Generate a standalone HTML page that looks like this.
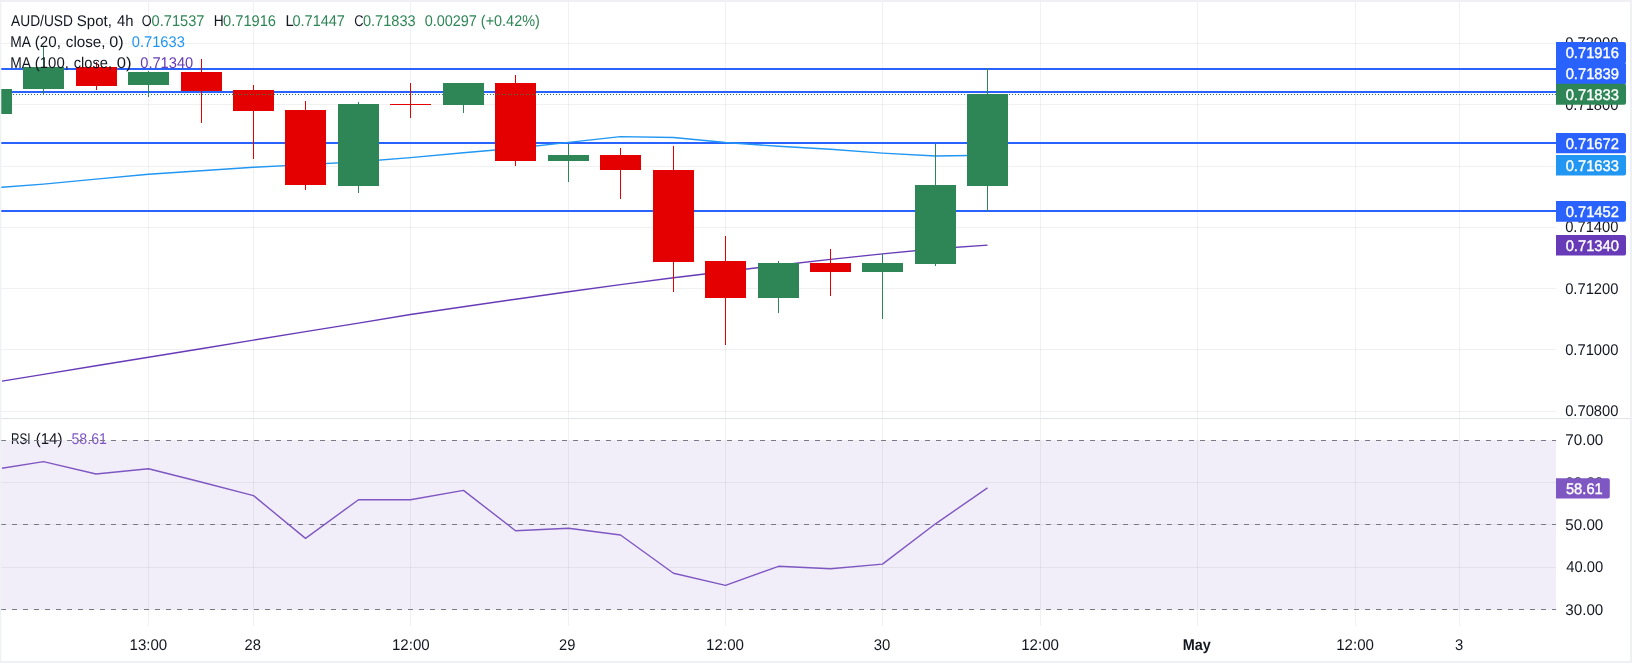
<!DOCTYPE html>
<html><head><meta charset="utf-8"><title>AUD/USD Spot, 4h</title>
<style>
html,body{margin:0;padding:0;background:#eef0f4;}
body{width:1632px;height:663px;overflow:hidden;}
svg{display:block;will-change:transform;}
text{font-family:'Liberation Sans', Arial, sans-serif;text-rendering:geometricPrecision;}
</style></head><body>
<svg width="1632" height="663" viewBox="0 0 1632 663">
<defs>
<clipPath id="cm"><rect x="1" y="2" width="1555" height="416"/></clipPath>
<clipPath id="cr"><rect x="1" y="419" width="1555" height="207"/></clipPath>
</defs>
<rect x="0" y="0" width="1632" height="663" fill="#eef0f4"/>
<rect x="1" y="2" width="1629" height="659" fill="#ffffff"/>

<g shape-rendering="crispEdges">
<rect x="1" y="43" width="1555" height="1" fill="rgba(42,50,48,0.07)"/>
<rect x="1" y="104" width="1555" height="1" fill="rgba(42,50,48,0.07)"/>
<rect x="1" y="166" width="1555" height="1" fill="rgba(42,50,48,0.07)"/>
<rect x="1" y="227" width="1555" height="1" fill="rgba(42,50,48,0.07)"/>
<rect x="1" y="288" width="1555" height="1" fill="rgba(42,50,48,0.07)"/>
<rect x="1" y="349" width="1555" height="1" fill="rgba(42,50,48,0.07)"/>
<rect x="1" y="411" width="1555" height="1" fill="rgba(42,50,48,0.07)"/>
<rect x="148" y="2" width="1" height="416" fill="rgba(42,50,48,0.07)"/>
<rect x="253" y="2" width="1" height="416" fill="rgba(42,50,48,0.07)"/>
<rect x="410" y="2" width="1" height="416" fill="rgba(42,50,48,0.07)"/>
<rect x="568" y="2" width="1" height="416" fill="rgba(42,50,48,0.07)"/>
<rect x="725" y="2" width="1" height="416" fill="rgba(42,50,48,0.07)"/>
<rect x="882" y="2" width="1" height="416" fill="rgba(42,50,48,0.07)"/>
<rect x="1040" y="2" width="1" height="416" fill="rgba(42,50,48,0.07)"/>
<rect x="1197" y="2" width="1" height="416" fill="rgba(42,50,48,0.07)"/>
<rect x="1355" y="2" width="1" height="416" fill="rgba(42,50,48,0.07)"/>
<rect x="1459" y="2" width="1" height="416" fill="rgba(42,50,48,0.07)"/>
<rect x="1" y="440" width="1555" height="1" fill="rgba(42,50,48,0.07)"/>
<rect x="1" y="482" width="1555" height="1" fill="rgba(42,50,48,0.07)"/>
<rect x="1" y="524" width="1555" height="1" fill="rgba(42,50,48,0.07)"/>
<rect x="1" y="567" width="1555" height="1" fill="rgba(42,50,48,0.07)"/>
<rect x="1" y="609" width="1555" height="1" fill="rgba(42,50,48,0.07)"/>
<rect x="148" y="419" width="1" height="207" fill="rgba(42,50,48,0.07)"/>
<rect x="253" y="419" width="1" height="207" fill="rgba(42,50,48,0.07)"/>
<rect x="410" y="419" width="1" height="207" fill="rgba(42,50,48,0.07)"/>
<rect x="568" y="419" width="1" height="207" fill="rgba(42,50,48,0.07)"/>
<rect x="725" y="419" width="1" height="207" fill="rgba(42,50,48,0.07)"/>
<rect x="882" y="419" width="1" height="207" fill="rgba(42,50,48,0.07)"/>
<rect x="1040" y="419" width="1" height="207" fill="rgba(42,50,48,0.07)"/>
<rect x="1197" y="419" width="1" height="207" fill="rgba(42,50,48,0.07)"/>
<rect x="1355" y="419" width="1" height="207" fill="rgba(42,50,48,0.07)"/>
<rect x="1459" y="419" width="1" height="207" fill="rgba(42,50,48,0.07)"/>
</g>
<g clip-path="url(#cm)">
<g shape-rendering="crispEdges">
<rect x="1" y="68" width="1555" height="2" fill="#2962ff"/>
<rect x="1" y="91" width="1555" height="2" fill="#2962ff"/>
<rect x="1" y="142" width="1555" height="2" fill="#2962ff"/>
<rect x="1" y="210" width="1555" height="2" fill="#2962ff"/>
</g>
<polyline points="-9,188.5 2,187.2 43.5,184.1 96,179.1 148.5,174.2 201,170.7 253.5,167.2 305.5,164.6 358.5,161.8 410.5,157.6 463.5,152.8 515.5,148.2 568.5,142.4 620.5,136.6 673.5,137.5 725.5,142.5 778.5,146.3 830.5,149.3 882.5,153.1 935.5,156.0 987.5,155.3" fill="none" stroke="#2196f3" stroke-width="1.4" stroke-linejoin="round"/>
<polyline points="2,381.1 43.5,374.4 96,365.8 148.5,357.2 201,348.7 253.5,340.1 305.5,331.6 358.5,323.1 410.5,314.5 463.5,306.8 515.5,299.2 568.5,291.7 620.5,284.6 673.5,277.8 725.5,271.5 778.5,265.3 830.5,259.4 882.5,253.9 935.5,248.7 987.5,245.1" fill="none" stroke="#673ab7" stroke-width="1.4" stroke-linejoin="round"/>
<g shape-rendering="crispEdges">
<rect x="-9" y="89" width="1" height="25" fill="#2e8656"/>
<rect x="-29" y="89" width="41" height="25" fill="#2e8656"/>
<rect x="43" y="46" width="1" height="49" fill="#2e8656"/>
<rect x="23" y="67" width="41" height="22" fill="#2e8656"/>
<rect x="96" y="62" width="1" height="28" fill="#e40000"/>
<rect x="76" y="67" width="41" height="19" fill="#e40000"/>
<rect x="148" y="71" width="1" height="26" fill="#2e8656"/>
<rect x="128" y="72" width="41" height="13" fill="#2e8656"/>
<rect x="201" y="59" width="1" height="64" fill="#e40000"/>
<rect x="181" y="72" width="41" height="19" fill="#e40000"/>
<rect x="253" y="85" width="1" height="74" fill="#e40000"/>
<rect x="233" y="90" width="41" height="21" fill="#e40000"/>
<rect x="305" y="101" width="1" height="89" fill="#e40000"/>
<rect x="285" y="110" width="41" height="75" fill="#e40000"/>
<rect x="358" y="102" width="1" height="91" fill="#2e8656"/>
<rect x="338" y="104" width="41" height="82" fill="#2e8656"/>
<rect x="410" y="83" width="1" height="35" fill="#e40000"/>
<rect x="390" y="104" width="41" height="1" fill="#e40000"/>
<rect x="463" y="83" width="1" height="30" fill="#2e8656"/>
<rect x="443" y="83" width="41" height="22" fill="#2e8656"/>
<rect x="515" y="75" width="1" height="91" fill="#e40000"/>
<rect x="495" y="83" width="41" height="78" fill="#e40000"/>
<rect x="568" y="144" width="1" height="38" fill="#2e8656"/>
<rect x="548" y="155" width="41" height="6" fill="#2e8656"/>
<rect x="620" y="148" width="1" height="51" fill="#e40000"/>
<rect x="600" y="155" width="41" height="15" fill="#e40000"/>
<rect x="673" y="146" width="1" height="146" fill="#e40000"/>
<rect x="653" y="170" width="41" height="92" fill="#e40000"/>
<rect x="725" y="236" width="1" height="109" fill="#e40000"/>
<rect x="705" y="261" width="41" height="37" fill="#e40000"/>
<rect x="778" y="261" width="1" height="52" fill="#2e8656"/>
<rect x="758" y="263" width="41" height="35" fill="#2e8656"/>
<rect x="830" y="249" width="1" height="47" fill="#e40000"/>
<rect x="810" y="263" width="41" height="9" fill="#e40000"/>
<rect x="882" y="254" width="1" height="65" fill="#2e8656"/>
<rect x="862" y="263" width="41" height="9" fill="#2e8656"/>
<rect x="935" y="144" width="1" height="122" fill="#2e8656"/>
<rect x="915" y="185" width="41" height="79" fill="#2e8656"/>
<rect x="987" y="68" width="1" height="143" fill="#2e8656"/>
<rect x="967" y="94" width="41" height="92" fill="#2e8656"/>
</g>
<line x1="2" y1="94.5" x2="1556" y2="94.5" stroke="#2e8656" stroke-width="1" stroke-dasharray="1 2" stroke-dashoffset="-2" shape-rendering="crispEdges"/>
</g>
<text x="11.10" y="25.9" font-size="15.5" fill="#131722" textLength="61.88" lengthAdjust="spacingAndGlyphs">AUD/USD</text>
<text x="76.83" y="25.9" font-size="15.5" fill="#131722" textLength="35.03" lengthAdjust="spacingAndGlyphs">Spot,</text>
<text x="117.00" y="25.9" font-size="15.5" fill="#131722" textLength="16.50" lengthAdjust="spacingAndGlyphs">4h</text>
<text x="141.68" y="25.9" font-size="15.5" fill="#131722" textLength="9.87" lengthAdjust="spacingAndGlyphs">O</text>
<text x="151.56" y="25.9" font-size="15.5" fill="#2e8656" textLength="52.87" lengthAdjust="spacingAndGlyphs">0.71537</text>
<text x="213.81" y="25.9" font-size="15.5" fill="#131722" textLength="9.96" lengthAdjust="spacingAndGlyphs">H</text>
<text x="223.05" y="25.9" font-size="15.5" fill="#2e8656" textLength="52.98" lengthAdjust="spacingAndGlyphs">0.71916</text>
<text x="285.44" y="25.9" font-size="15.5" fill="#131722" textLength="8.26" lengthAdjust="spacingAndGlyphs">L</text>
<text x="292.46" y="25.9" font-size="15.5" fill="#2e8656" textLength="52.47" lengthAdjust="spacingAndGlyphs">0.71447</text>
<text x="354.17" y="25.9" font-size="15.5" fill="#131722" textLength="9.30" lengthAdjust="spacingAndGlyphs">C</text>
<text x="362.96" y="25.9" font-size="15.5" fill="#2e8656" textLength="52.67" lengthAdjust="spacingAndGlyphs">0.71833</text>
<text x="424.67" y="25.9" font-size="15.5" fill="#2e8656" textLength="115.16" lengthAdjust="spacingAndGlyphs">0.00297 (+0.42%)</text>
<text x="10.21" y="46.6" font-size="15.5" fill="#131722" textLength="20.71" lengthAdjust="spacingAndGlyphs">MA</text>
<text x="34.82" y="46.6" font-size="15.5" fill="#131722" textLength="26.08" lengthAdjust="spacingAndGlyphs">(20,</text>
<text x="65.82" y="46.6" font-size="15.5" fill="#131722" textLength="39.75" lengthAdjust="spacingAndGlyphs">close,</text>
<text x="109.36" y="46.6" font-size="15.5" fill="#131722" textLength="14.37" lengthAdjust="spacingAndGlyphs">0)</text>
<text x="131.85" y="46.6" font-size="15.5" fill="#2196f3" textLength="52.98" lengthAdjust="spacingAndGlyphs">0.71633</text>
<text x="10.21" y="67.5" font-size="15.5" fill="#131722" textLength="20.71" lengthAdjust="spacingAndGlyphs">MA</text>
<text x="34.84" y="67.5" font-size="15.5" fill="#131722" textLength="34.06" lengthAdjust="spacingAndGlyphs">(100,</text>
<text x="73.75" y="67.5" font-size="15.5" fill="#131722" textLength="38.37" lengthAdjust="spacingAndGlyphs">close,</text>
<text x="116.72" y="67.5" font-size="15.5" fill="#131722" textLength="14.83" lengthAdjust="spacingAndGlyphs">0)</text>
<text x="140.25" y="67.5" font-size="15.5" fill="#673ab7" textLength="52.98" lengthAdjust="spacingAndGlyphs">0.71340</text>
<rect x="1" y="418" width="1629" height="1" fill="#e0e3eb" shape-rendering="crispEdges"/>
<g clip-path="url(#cr)">
<rect x="1" y="441" width="1555" height="168" fill="#7e57c2" fill-opacity="0.1" shape-rendering="crispEdges"/>
<text x="11.04" y="443.7" font-size="15.5" fill="#131722" textLength="19.60" lengthAdjust="spacingAndGlyphs">RSI</text>
<text x="35.73" y="443.7" font-size="15.5" fill="#131722" textLength="26.73" lengthAdjust="spacingAndGlyphs">(14)</text>
<text x="71.49" y="443.7" font-size="15.5" fill="#7e57c2" textLength="35.44" lengthAdjust="spacingAndGlyphs">58.61</text>
<line x1="1" y1="440.5" x2="1556" y2="440.5" stroke="#787b86" stroke-width="1" stroke-dasharray="5 6" shape-rendering="crispEdges"/>
<line x1="1" y1="524.5" x2="1556" y2="524.5" stroke="#787b86" stroke-width="1" stroke-dasharray="5 6" shape-rendering="crispEdges"/>
<line x1="1" y1="609.5" x2="1556" y2="609.5" stroke="#787b86" stroke-width="1" stroke-dasharray="5 6" shape-rendering="crispEdges"/>
<polyline points="2,468.3 43.5,461.6 96,474.0 148.5,468.7 201,482.0 253.5,495.6 305.5,538.4 358.5,499.7 410.5,499.7 463.5,490.4 515.5,530.7 568.5,528.2 620.5,535.0 673.5,573.2 725.5,585.4 778.5,566.3 830.5,568.7 882.5,564.1 935.5,523.8 987.5,487.9" fill="none" stroke="#7e57c2" stroke-width="1.4" stroke-linejoin="round"/>
</g>
<text x="1565.15" y="47.8" font-size="15.5" fill="#131722" textLength="53.28" lengthAdjust="spacingAndGlyphs">0.72000</text>
<text x="1565.15" y="109.5" font-size="15.5" fill="#131722" textLength="53.28" lengthAdjust="spacingAndGlyphs">0.71800</text>
<text x="1565.15" y="232.0" font-size="15.5" fill="#131722" textLength="53.28" lengthAdjust="spacingAndGlyphs">0.71400</text>
<text x="1565.15" y="293.7" font-size="15.5" fill="#131722" textLength="53.28" lengthAdjust="spacingAndGlyphs">0.71200</text>
<text x="1565.15" y="354.8" font-size="15.5" fill="#131722" textLength="53.28" lengthAdjust="spacingAndGlyphs">0.71000</text>
<text x="1565.15" y="415.8" font-size="15.5" fill="#131722" textLength="53.28" lengthAdjust="spacingAndGlyphs">0.70800</text>
<text x="1565.32" y="445.4" font-size="15.5" fill="#131722" textLength="37.96" lengthAdjust="spacingAndGlyphs">70.00</text>
<text x="1565.32" y="487.7" font-size="15.5" fill="#131722" textLength="37.96" lengthAdjust="spacingAndGlyphs">60.00</text>
<text x="1565.32" y="529.9" font-size="15.5" fill="#131722" textLength="37.96" lengthAdjust="spacingAndGlyphs">50.00</text>
<text x="1566.30" y="572.4" font-size="15.5" fill="#131722" textLength="36.96" lengthAdjust="spacingAndGlyphs">40.00</text>
<text x="1565.32" y="614.8" font-size="15.5" fill="#131722" textLength="37.96" lengthAdjust="spacingAndGlyphs">30.00</text>
<path d="M1556,42 H1624 a2,2 0 0 1 2,2 V61.6 a2,2 0 0 1 -2,2 H1556 Z" fill="#2962ff"/>
<path d="M1556,62.6 H1624 a2,2 0 0 1 2,2 V82.8 a2,2 0 0 1 -2,2 H1556 Z" fill="#2962ff"/>
<path d="M1556,83.8 H1624 a2,2 0 0 1 2,2 V102.8 a2,2 0 0 1 -2,2 H1556 Z" fill="#2e8656"/>
<path d="M1556,133 H1624 a2,2 0 0 1 2,2 V151.2 a2,2 0 0 1 -2,2 H1556 Z" fill="#2962ff"/>
<path d="M1556,155 H1624 a2,2 0 0 1 2,2 V173.5 a2,2 0 0 1 -2,2 H1556 Z" fill="#2196f3"/>
<path d="M1556,201 H1624 a2,2 0 0 1 2,2 V219.7 a2,2 0 0 1 -2,2 H1556 Z" fill="#2962ff"/>
<path d="M1556,235 H1624 a2,2 0 0 1 2,2 V253.6 a2,2 0 0 1 -2,2 H1556 Z" fill="#673ab7"/>
<path d="M1556,478.2 H1607.8 a2,2 0 0 1 2,2 V496.6 a2,2 0 0 1 -2,2 H1556 Z" fill="#7e57c2"/>
<text x="1565.65" y="57.8" font-size="15.5" fill="#ffffff" stroke="#ffffff" stroke-width="0.4" textLength="53.28" lengthAdjust="spacingAndGlyphs">0.71916</text>
<text x="1565.65" y="78.7" font-size="15.5" fill="#ffffff" stroke="#ffffff" stroke-width="0.4" textLength="53.28" lengthAdjust="spacingAndGlyphs">0.71839</text>
<text x="1565.65" y="99.5" font-size="15.5" fill="#ffffff" stroke="#ffffff" stroke-width="0.4" textLength="53.28" lengthAdjust="spacingAndGlyphs">0.71833</text>
<text x="1565.65" y="148.5" font-size="15.5" fill="#ffffff" stroke="#ffffff" stroke-width="0.4" textLength="53.28" lengthAdjust="spacingAndGlyphs">0.71672</text>
<text x="1565.65" y="170.7" font-size="15.5" fill="#ffffff" stroke="#ffffff" stroke-width="0.4" textLength="53.28" lengthAdjust="spacingAndGlyphs">0.71633</text>
<text x="1565.65" y="216.9" font-size="15.5" fill="#ffffff" stroke="#ffffff" stroke-width="0.4" textLength="53.28" lengthAdjust="spacingAndGlyphs">0.71452</text>
<text x="1565.65" y="250.7" font-size="15.5" fill="#ffffff" stroke="#ffffff" stroke-width="0.4" textLength="53.28" lengthAdjust="spacingAndGlyphs">0.71340</text>
<text x="1565.95" y="493.9" font-size="15.5" fill="#ffffff" stroke="#ffffff" stroke-width="0.4" textLength="36.80" lengthAdjust="spacingAndGlyphs">58.61</text>
<text x="129.53" y="649.7" font-size="15.5" fill="#131722" textLength="37.64" lengthAdjust="spacingAndGlyphs">13:00</text>
<text x="244.45" y="649.7" font-size="15.5" fill="#131722" textLength="16.39" lengthAdjust="spacingAndGlyphs">28</text>
<text x="391.93" y="649.7" font-size="15.5" fill="#131722" textLength="37.75" lengthAdjust="spacingAndGlyphs">12:00</text>
<text x="559.06" y="649.7" font-size="15.5" fill="#131722" textLength="16.28" lengthAdjust="spacingAndGlyphs">29</text>
<text x="706.12" y="649.7" font-size="15.5" fill="#131722" textLength="37.85" lengthAdjust="spacingAndGlyphs">12:00</text>
<text x="873.84" y="649.7" font-size="15.5" fill="#131722" textLength="16.60" lengthAdjust="spacingAndGlyphs">30</text>
<text x="1021.23" y="649.7" font-size="15.5" fill="#131722" textLength="37.75" lengthAdjust="spacingAndGlyphs">12:00</text>
<text x="1182.67" y="649.7" font-size="15.5" font-weight="700" fill="#131722" textLength="28.08" lengthAdjust="spacingAndGlyphs">May</text>
<text x="1336.23" y="649.7" font-size="15.5" fill="#131722" textLength="37.75" lengthAdjust="spacingAndGlyphs">12:00</text>
<text x="1454.94" y="649.7" font-size="15.5" fill="#131722" textLength="8.26" lengthAdjust="spacingAndGlyphs">3</text>
<rect x="0" y="0" width="1.3" height="663" fill="#eef0f4"/>
</svg>
</body></html>
